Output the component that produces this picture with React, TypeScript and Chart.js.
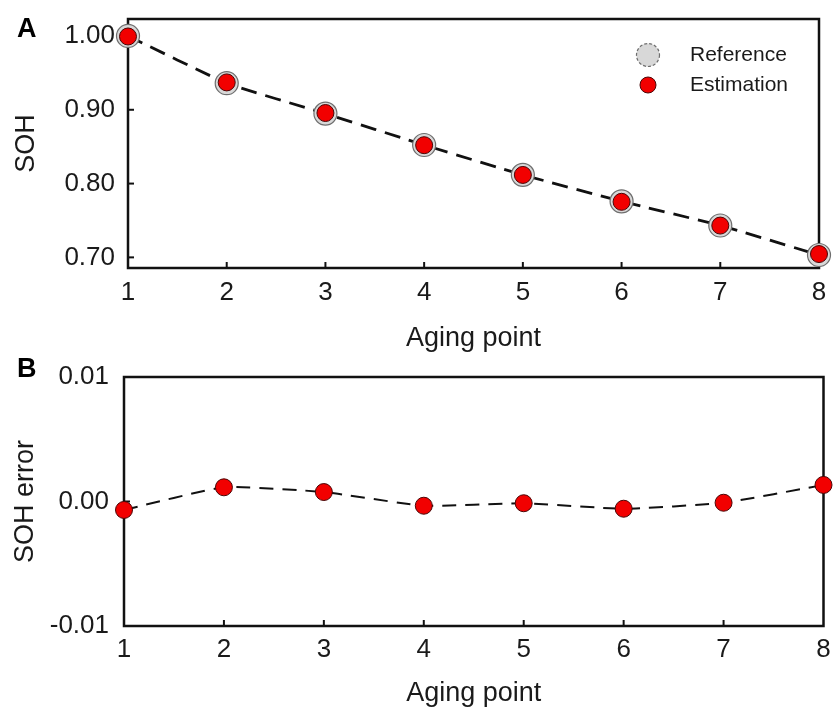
import React, { useEffect, useRef } from 'react';
import { Chart, registerables } from 'chart.js';

Chart.register(...registerables);

// ---- data ----
const agingPoints = ['1', '2', '3', '4', '5', '6', '7', '8'];
const sohReference = [1.0, 0.936, 0.8948, 0.8523, 0.8118, 0.7759, 0.7432, 0.7032];
const sohEstimation = [0.9993, 0.9371, 0.8956, 0.852, 0.8117, 0.7753, 0.7431, 0.7045];
const sohError = [-0.00068, 0.00114, 0.00076, -0.00034, -0.00014, -0.00058, -0.0001, 0.00133];
const sohTicks = [0.7, 0.8, 0.9, 1.0];
const errorTicks = [-0.01, 0, 0.01];
const sohRange = [0.6856, 1.023];
const errorRange = [-0.01, 0.01];

const FONT = '"Liberation Sans", Arial, Helvetica, sans-serif';
const TEXT = '#1a1a1a';
const RED = '#f20000';
const RED_EDGE = '#4a0606';
const GREY = '#d8d8d8';
const GREY_EDGE = '#6e6e6e';

const framePlugin = {
  id: 'frame',
  beforeDatasetsDraw(chart: any, _args: any, opts: any) {
    const { ctx, chartArea: a, scales } = chart;
    ctx.save();
    ctx.strokeStyle = '#111';
    ctx.lineWidth = opts.lineWidth || 2.5;
    ctx.strokeRect(a.left, a.top, a.right - a.left, a.bottom - a.top);
    ctx.lineWidth = 2;
    const tl = opts.tick || 6;
    const x = scales.x;
    x.ticks.forEach((_t: any, i: number) => {
      const px = x.getPixelForTick(i);
      if (px > a.left + 2 && px < a.right - 2) {
        ctx.beginPath();
        ctx.moveTo(px, a.bottom);
        ctx.lineTo(px, a.bottom - tl);
        ctx.stroke();
      }
    });
    const y = scales.y;
    y.ticks.forEach((t: any) => {
      const py = y.getPixelForValue(t.value);
      if (py > a.top + 2 && py < a.bottom - 2) {
        ctx.beginPath();
        ctx.moveTo(a.left, py);
        ctx.lineTo(a.left + tl, py);
        ctx.stroke();
      }
    });
    ctx.restore();
  },
  afterDraw(chart: any, _args: any, opts: any) {
    const { ctx } = chart;
    ctx.save();
    if (opts.letter) {
      ctx.fillStyle = '#000';
      ctx.font = `bold 27px ${FONT}`;
      ctx.textAlign = 'left';
      ctx.textBaseline = 'alphabetic';
      ctx.fillText(opts.letter, 17, opts.letterY);
    }
    if (opts.legend) {
      const items = opts.legend as any[];
      items.forEach((it) => {
        ctx.beginPath();
        ctx.arc(it.cx, it.cy, it.r, 0, Math.PI * 2);
        ctx.fillStyle = it.fill;
        ctx.fill();
        ctx.lineWidth = it.bw;
        ctx.strokeStyle = it.stroke;
        if (it.dash) ctx.setLineDash(it.dash);
        ctx.stroke();
        ctx.setLineDash([]);
        ctx.fillStyle = TEXT;
        ctx.font = `21px ${FONT}`;
        ctx.textAlign = 'left';
        ctx.textBaseline = 'middle';
        ctx.fillText(it.text, it.tx, it.cy);
      });
    }
    ctx.restore();
  },
};

const zeroPadding = (s: any) => {
  s.paddingTop = 0;
  s.paddingBottom = 0;
  s.paddingLeft = 0;
  s.paddingRight = 0;
};

function baseScales(opts: {
  yMin: number;
  yMax: number;
  yTicks: number[];
  yTitle: string;
  yWidth: number;
  yPad: number;
  yTitlePad: number;
  xHeight: number;
  xPad: number;
}) {
  return {
    x: {
      offset: false,
      grid: { display: false, drawTicks: false },
      border: { display: false },
      ticks: {
        font: { family: FONT, size: 26 },
        color: TEXT,
        padding: opts.xPad,
        maxRotation: 0,
        autoSkip: false,
      },
      title: {
        display: true,
        text: 'Aging point',
        font: { family: FONT, size: 27 },
        color: TEXT,
        padding: { top: 0, bottom: 0 },
      },
      afterFit: (s: any) => {
        s.height = opts.xHeight;
        zeroPadding(s);
      },
    },
    y: {
      min: opts.yMin,
      max: opts.yMax,
      grid: { display: false, drawTicks: false },
      border: { display: false },
      afterBuildTicks: (s: any) => {
        s.ticks = opts.yTicks.map((v) => ({ value: v }));
      },
      ticks: {
        font: { family: FONT, size: 26 },
        color: TEXT,
        padding: opts.yPad,
        callback: (v: any) => Number(v).toFixed(2),
      },
      title: {
        display: true,
        text: opts.yTitle,
        font: { family: FONT, size: 27 },
        color: TEXT,
        padding: { top: opts.yTitlePad, bottom: 0 },
      },
      afterFit: (s: any) => {
        s.width = opts.yWidth;
        zeroPadding(s);
      },
    },
  };
}

export default function App() {
  const refA = useRef<HTMLCanvasElement>(null);
  const refB = useRef<HTMLCanvasElement>(null);

  useEffect(() => {
    const chartA = new Chart(refA.current as HTMLCanvasElement, {
      type: 'line',
      data: {
        labels: agingPoints,
        datasets: [
          {
            label: 'Estimation',
            data: sohEstimation,
            showLine: false,
            pointRadius: 8.5,
            pointBackgroundColor: RED,
            pointBorderColor: RED_EDGE,
            pointBorderWidth: 1,
            clip: false,
          } as any,
          {
            label: 'Reference',
            data: sohReference,
            borderColor: '#111',
            borderWidth: 2.8,
            borderDash: [16, 9],
            tension: 0.12,
            pointRadius: 11.5,
            pointBackgroundColor: GREY,
            pointBorderColor: GREY_EDGE,
            pointBorderWidth: 1.2,
            clip: false,
          } as any,
        ],
      },
      options: {
        animation: false,
        responsive: false,
        maintainAspectRatio: false,
        layout: { padding: { top: 19, right: 14, left: 0, bottom: 0 } },
        plugins: {
          legend: { display: false },
          tooltip: { enabled: false },
          frame: {
            letter: 'A',
            letterY: 37,
            lineWidth: 2.5,
            tick: 6,
            legend: [
              { cx: 648, cy: 55, r: 11.5, fill: GREY, stroke: GREY_EDGE, bw: 1.2, dash: [3, 2], text: 'Reference', tx: 690 },
              { cx: 648, cy: 85, r: 8, fill: RED, stroke: RED_EDGE, bw: 1, text: 'Estimation', tx: 690 },
            ],
          },
        } as any,
        scales: baseScales({
          yMin: sohRange[0],
          yMax: sohRange[1],
          yTicks: sohTicks,
          yTitle: 'SOH',
          yWidth: 128,
          yPad: 13,
          yTitlePad: 10,
          xHeight: 87,
          xPad: 9,
        }) as any,
      },
      plugins: [framePlugin],
    });

    const chartB = new Chart(refB.current as HTMLCanvasElement, {
      type: 'line',
      data: {
        labels: agingPoints,
        datasets: [
          {
            label: 'SOH error',
            data: sohError,
            borderColor: '#111',
            borderWidth: 2,
            borderDash: [14, 9],
            tension: 0.15,
            pointRadius: 8.5,
            pointBackgroundColor: RED,
            pointBorderColor: RED_EDGE,
            pointBorderWidth: 1,
            clip: false,
          } as any,
        ],
      },
      options: {
        animation: false,
        responsive: false,
        maintainAspectRatio: false,
        layout: { padding: { top: 22, right: 9, left: 0, bottom: 0 } },
        plugins: {
          legend: { display: false },
          tooltip: { enabled: false },
          frame: { letter: 'B', letterY: 22, lineWidth: 2.5, tick: 6 },
        } as any,
        scales: baseScales({
          yMin: errorRange[0],
          yMax: errorRange[1],
          yTicks: errorTicks,
          yTitle: 'SOH error',
          yWidth: 124,
          yPad: 15,
          yTitlePad: 9,
          xHeight: 84,
          xPad: 8,
        }) as any,
      },
      plugins: [framePlugin],
    });

    return () => {
      chartA.destroy();
      chartB.destroy();
    };
  }, []);

  return (
    <div style={{ position: 'absolute', left: 0, top: 0, width: 833, height: 710, background: '#fff' }}>
      <canvas ref={refA} width={833} height={355} style={{ display: 'block', width: 833, height: 355 }} />
      <canvas ref={refB} width={833} height={355} style={{ display: 'block', width: 833, height: 355 }} />
    </div>
  );
}
